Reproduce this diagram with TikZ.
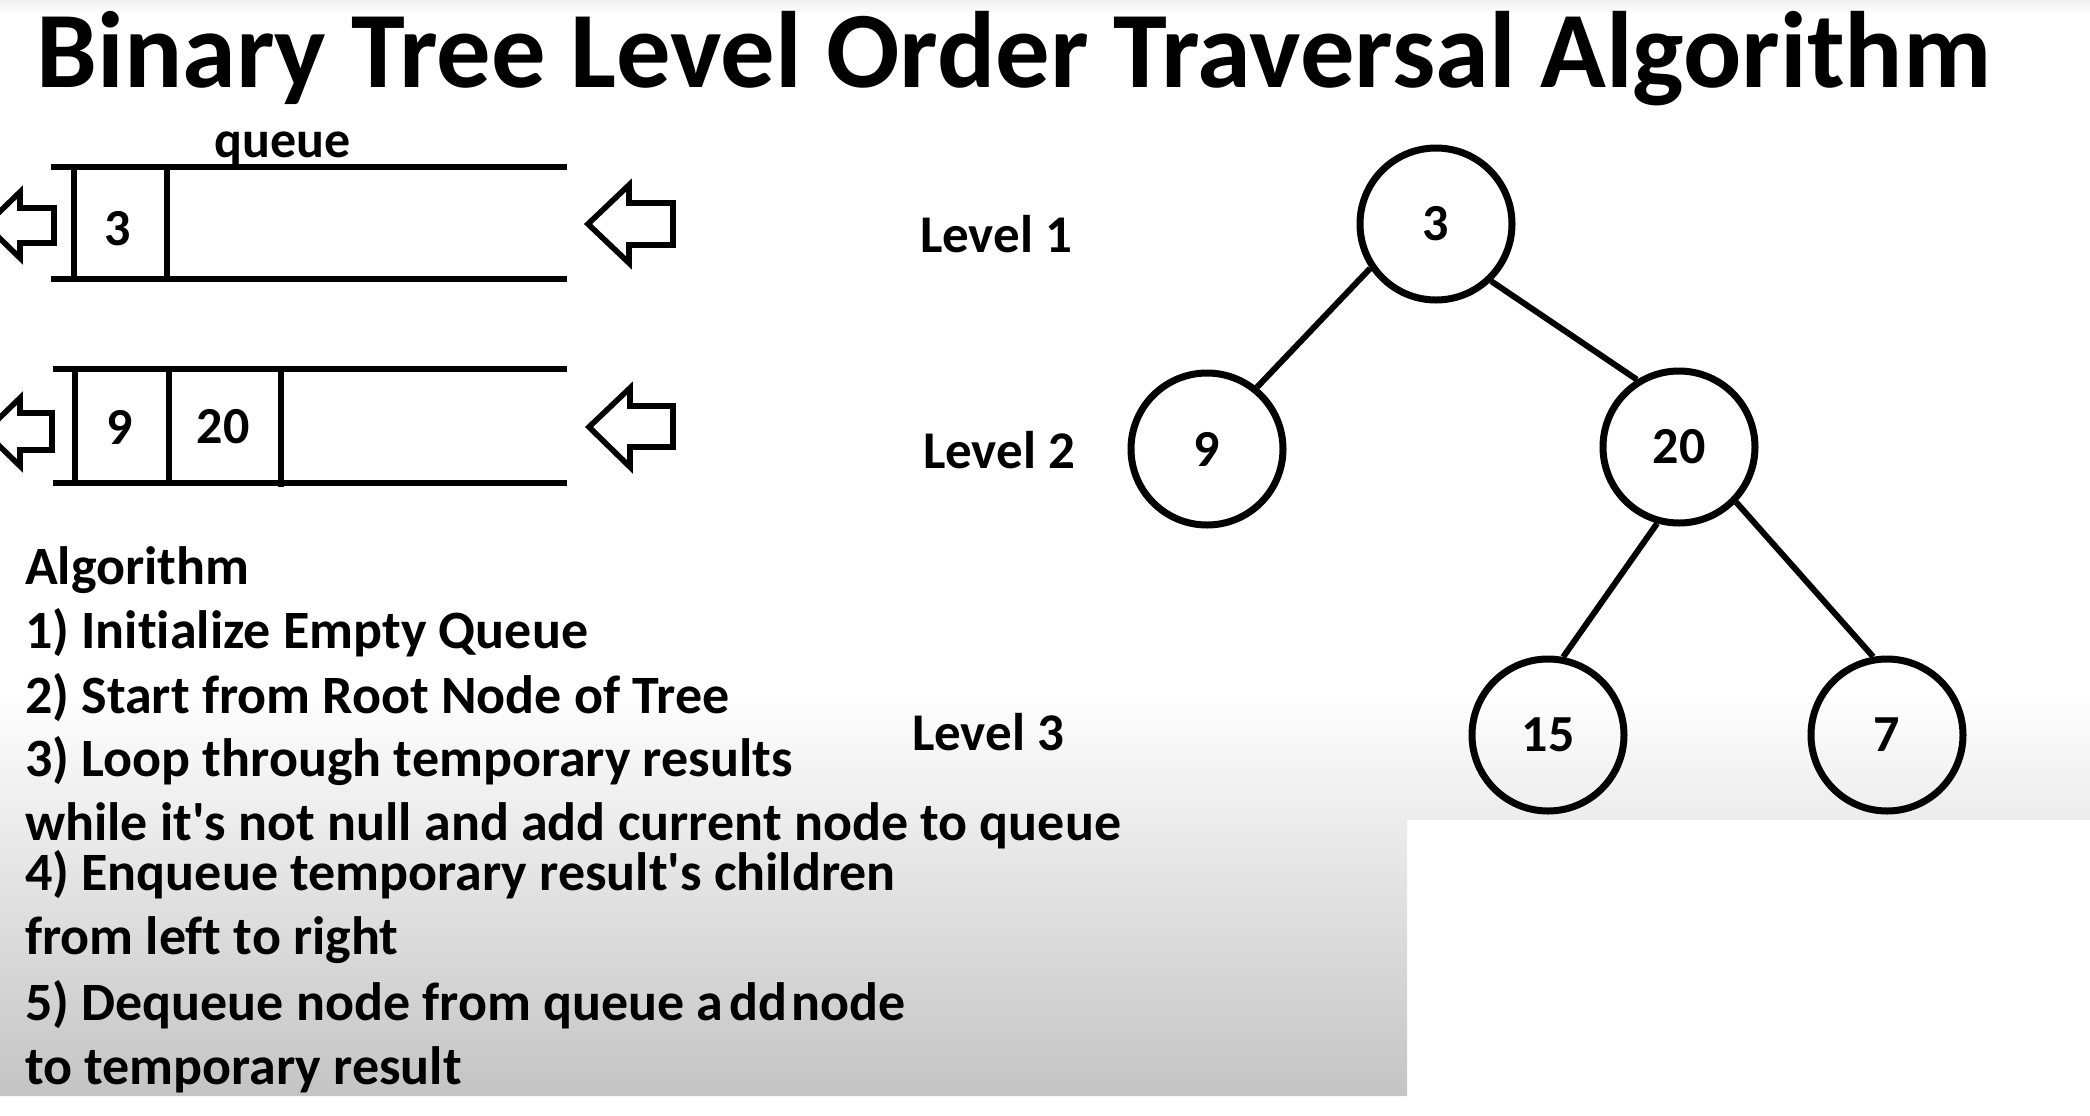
\documentclass[tikz,border=0pt]{standalone}
\usepackage{fontspec}
\setmainfont{Carlito}[Ligatures=NoCommon]
\usetikzlibrary{calc, positioning}

\begin{document}
\begin{tikzpicture}[x=0.5pt,y=-0.5pt,
  steptext/.style={anchor=base west,font=\fontsize{27}{30}\selectfont\bfseries},
  levellabel/.style={anchor=base west,font=\fontsize{26.5}{30}\selectfont\bfseries},
  cellnum/.style={font=\fontsize{26}{28}\selectfont\bfseries},
  treenode/.style={circle,draw,line width=3.5pt,minimum size=76pt,inner sep=0pt,cellnum},
  treeedge/.style={line width=3pt},
  qline/.style={line width=3.3pt},
  qarrow/.style={line width=2.8pt,line join=miter}]
\definecolor{shadegray}{RGB}{196,196,196}
\useasboundingbox (0,0) rectangle (2090,1115);

% Grey fade behind the steps; the lower right corner stays white.
\shade[top color=white,bottom color=shadegray]
  (0,690) -- (2090,690) -- (2090,820) -- (1407,820) -- (1407,1096) -- (0,1096) -- cycle;
\shade[top color=black!6,bottom color=white] (0,0) rectangle (2090,14);

% Title.
\node[anchor=base west,inner sep=0pt,font=\fontsize{54.3}{58}\selectfont\bfseries]
  (title) at (36,87) {Binary Tree Level Order Traversal Algorithm};

% First queue: only the root is in it.
\node[anchor=base,cellnum] (qlabel) at (283,157) {queue};
\draw[qline] (51,167) -- (567,167);
\draw[qline] (51,279) -- (567,279);
\draw[qline] (74,167) -- (74,279);
\draw[qline] (167,167) -- (167,279);
\node[cellnum] (qa3) at (118,229) {3};
\draw[qarrow] (-14,225) -- (20,192) -- (20,208) -- (54,208) -- (54,243) -- (20,243) -- (20,258) -- cycle;
\draw[qarrow] (588,224) -- (629,185) -- (629,203) -- (673,203) -- (673,245) -- (629,245) -- (629,263) -- cycle;

% Second queue: the two children of the root.
\draw[qline] (53,369) -- (567,369);
\draw[qline] (53,483) -- (567,483);
\draw[qline] (75,369) -- (75,483);
\draw[qline] (169,369) -- (169,483);
\draw[qline] (281,369) -- (281,487);
\node[cellnum] (qb9) at (120,427) {9};
\node[cellnum] (qb20) at (223,427) {20};
\draw[qarrow] (-15,432) -- (20,398) -- (20,413) -- (52,413) -- (52,450) -- (20,450) -- (20,466) -- cycle;
\draw[qarrow] (589,427) -- (630,388) -- (630,406) -- (673,406) -- (673,447) -- (630,447) -- (630,467) -- cycle;

% Steps of the traversal.
\node[steptext] (alg) at (18,584) {Algorithm};
\node[steptext] (s1) at (18,648) {1) Initialize Empty Queue};
\node[steptext] (s2) at (18,713) {2) Start from Root Node of Tree};
\node[steptext] (s3) at (18,776) {3) Loop through temporary results};
\node[steptext] (s3b) at (18,840) {while it\textquotesingle s not null and add current node to queue};
\node[steptext] (s4) at (18,890) {4) Enqueue temporary result\textquotesingle s children};
\node[steptext] (s4b) at (18,954) {from left to right};
\node[steptext] (s5) at (18,1020) {5) Dequeue node from queue a\kern3pt dd\kern2pt node};
\node[steptext] (s5b) at (18,1084) {to temporary result};

% Levels of the tree.
\node[levellabel] (lev1) at (913,252) {Level 1};
\node[levellabel] (lev2) at (916,468) {Level 2};
\node[levellabel] (lev3) at (905,750) {Level 3};

% The tree.
\node[treenode] (n3) at (1436,224) {3};
\node[treenode] (n9) at (1207,449) {9};
\node[treenode] (n20) at (1679,447) {20};
\node[treenode] (n15) at (1548,735) {15};
\node[treenode] (n7) at (1887,735) {7};
\draw[treeedge] (n3.-146) -- (n9.51);
\draw[treeedge] (n3.-46) -- (n20.122);
\draw[treeedge] (n20.254) -- (n15.79);
\draw[treeedge] (n20.-44) -- (n7.100);
\end{tikzpicture}
\end{document}
